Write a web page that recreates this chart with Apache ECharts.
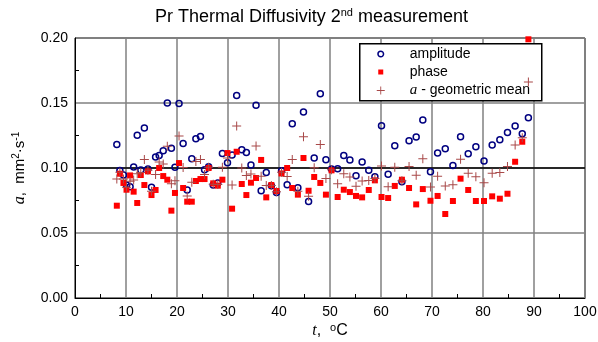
<!DOCTYPE html>
<html><head><meta charset="utf-8">
<script src="https://cdn.jsdelivr.net/npm/echarts@6/dist/echarts.min.js"></script>
<style>html,body{margin:0;padding:0;background:#fff}#c{width:598px;height:342px}</style>
</head><body><div id="c"></div>
<script>
const temperature = [8.2, 8.8, 9.5, 10.1, 10.8, 11.5, 12.2, 12.9, 13.6, 14.3, 15.0, 15.8, 16.5, 17.3, 18.1, 18.9, 19.6, 20.4, 21.2, 22.0, 22.9, 23.7, 24.6, 25.4, 26.2, 27.1, 28.0, 28.9, 29.9, 30.8, 31.7, 32.7, 33.6, 34.5, 35.5, 36.5, 37.5, 38.5, 39.5, 40.5, 41.6, 42.6, 43.7, 44.8, 45.8, 46.9, 48.1, 49.2, 50.3, 51.5, 52.7, 53.9, 55.1, 56.3, 57.6, 58.8, 60.1, 61.4, 62.7, 64.1, 65.5, 66.9, 68.2, 69.7, 71.1, 72.6, 74.1, 75.6, 77.1, 78.6, 80.2, 81.8, 83.3, 84.8, 86.3, 87.7, 88.9];
const amplitude = [0.118, 0.098, 0.0946, 0.0869, 0.0856, 0.1008, 0.1251, 0.0985, 0.1308, 0.0992,
  0.0851, 0.1085, 0.1097, 0.1133, 0.150, 0.1151, 0.1005, 0.1497, 0.1189, 0.0831,
  0.1072, 0.1225, 0.1243, 0.0987, 0.101, 0.0869, 0.0885, 0.1112, 0.1041, 0.110,
  0.1558, 0.1141, 0.112, 0.1023, 0.1482, 0.0825, 0.0966, 0.0864, 0.0812, 0.0979,
  0.0872, 0.1341, 0.0848, 0.1431, 0.0743, 0.1077, 0.1572, 0.1064, 0.0992, 0.0995,
  0.1097, 0.1062, 0.0941, 0.1046, 0.0982, 0.0933, 0.1325, 0.0951, 0.1172, 0.0895,
  0.121, 0.1238, 0.1369, 0.0972, 0.1115, 0.1148, 0.102, 0.1241, 0.111, 0.1164,
  0.1054, 0.1177, 0.1218, 0.1274, 0.1323, 0.1264, 0.1387];
const phase = [0.071, 0.0956, 0.0885, 0.0833, 0.0943, 0.0818, 0.0731, 0.0946, 0.0869, 0.0974,
  0.0792, 0.0831, 0.100, 0.0938, 0.091, 0.0672, 0.0808, 0.1038, 0.0846, 0.0741,
  0.0741, 0.090, 0.0915, 0.0915, 0.100, 0.0882, 0.0864, 0.091, 0.1115, 0.0687,
  0.1125, 0.0877, 0.0792, 0.0887, 0.0923, 0.1062, 0.0774, 0.0869, 0.0823, 0.0958,
  0.100, 0.0846, 0.0795, 0.1077, 0.0825, 0.0931, 0.0885, 0.0795, 0.0982, 0.0777,
  0.0833, 0.0815, 0.0785, 0.0774, 0.0831, 0.0905, 0.0777, 0.0769, 0.0862, 0.091,
  0.0846, 0.072, 0.0838, 0.0748, 0.0785, 0.0646, 0.0746, 0.0918, 0.0831, 0.0746,
  0.0746, 0.0782, 0.0764, 0.0802, 0.1048, 0.1202, 0.199];
const geoMean = [0.0915, 0.0968, 0.0915, 0.0851, 0.0898, 0.0908, 0.0956, 0.0965, 0.1066, 0.0983,
  0.0821, 0.095, 0.1047, 0.1031, 0.1168, 0.0879, 0.0901, 0.1247, 0.1003, 0.0785,
  0.0891, 0.105, 0.1066, 0.095, 0.1005, 0.0875, 0.0874, 0.1006, 0.1077, 0.0869,
  0.1324, 0.100, 0.0942, 0.0953, 0.117, 0.0936, 0.0865, 0.0866, 0.0818, 0.0968,
  0.0934, 0.1065, 0.0821, 0.1241, 0.0783, 0.1001, 0.118, 0.092, 0.0987, 0.0879,
  0.0956, 0.093, 0.0859, 0.090, 0.0903, 0.0919, 0.1015, 0.0855, 0.1005, 0.0902,
  0.1012, 0.0944, 0.1071, 0.0853, 0.0936, 0.0861, 0.0872, 0.1067, 0.096, 0.0932,
  0.0887, 0.0959, 0.0965, 0.1011, 0.1177, 0.1233, 0.1661];
const referenceLevel = [0.10];
const seriesNames = ['amplitude', 'phase', 'a - geometric mean'];

const FONT = 'Liberation Sans, Arial, sans-serif';
const plusPath = 'path://M4,0h1v4h4v1h-4v4h-1v-4h-4v-1h4z';
const legendCircle = 'path://M0,0M8,8M4,1.2A2.8,2.8,0,1,1,3.999,1.2Z';
const legendSquare = 'path://M0,0M8,8M1.5,1.5h5v5h-5z';
const NAVY = '#000080', RED = '#ff0000', CROSS = '#a84848';

const chart = echarts.init(document.getElementById('c'), null, {renderer: 'canvas'});
const pairs = arr => temperature.map((t, i) => [t, arr[i]]);

chart.setOption({
  animation: false,
  backgroundColor: '#fff',
  title: {
    text: '{n|Pr Thermal Diffusivity 2}{s|nd}{n| measurement}',
    left: 155, top: 7, padding: 0,
    textStyle: {
      fontWeight: 'normal',
      rich: {
        n: {fontSize: 18, fontFamily: FONT, fontWeight: 'normal', color: '#000', lineHeight: 21, verticalAlign: 'middle'},
        s: {fontSize: 11, fontFamily: FONT, fontWeight: 'normal', color: '#000', lineHeight: 21, verticalAlign: 'top'}
      }
    }
  },
  grid: {left: 75, right: 13, top: 38, bottom: 44, show: true, borderColor: '#000', borderWidth: 1,
    backgroundColor: 'transparent', containLabel: false, outerBoundsMode: 'none'},
  graphic: [{
    type: 'rect', left: 359, top: 43, z: 1,
    shape: {width: 182, height: 57},
    style: {fill: '#fff', stroke: '#000', lineWidth: 1.5}
  }],
  legend: {
    orient: 'vertical', left: 376, top: 47, padding: 0,
    itemWidth: 20, itemHeight: 8, itemGap: 4, z: 3,
    selectedMode: false,
    textStyle: {fontSize: 14, fontFamily: FONT, color: '#000', lineHeight: 14, padding: [0, 0, 0, 14],
      rich: {
        i: {fontSize: 15, fontFamily: 'Liberation Serif, serif', fontStyle: 'italic', color: '#000'},
        n: {fontSize: 14, fontFamily: FONT, color: '#000'}
      }},
    formatter: name => name === seriesNames[2] ? '{i|a}{n| - geometric mean}' : name,
    data: [
      {name: seriesNames[0], icon: legendCircle, itemStyle: {color: 'transparent', borderColor: NAVY, borderWidth: 1.5}},
      {name: seriesNames[1], icon: legendSquare, itemStyle: {color: RED, borderWidth: 0}},
      {name: seriesNames[2], icon: plusPath, itemStyle: {color: CROSS, borderWidth: 0}}
    ]
  },
  xAxis: {
    type: 'value', min: 0, max: 100, interval: 10,
    axisLine: {show: true, onZero: false, lineStyle: {color: '#000', width: 1}},
    axisTick: {show: false, inside: true},
    minorTick: {show: true, splitNumber: 2, length: 4, lineStyle: {color: '#000', width: 1}},
    splitLine: {show: true, lineStyle: {color: '#808080', width: 1.5}},
    axisLabel: {fontSize: 14, fontFamily: FONT, color: '#000', margin: 7},
    name: '{i|t}{n|,  }{s|o}{n|C}',
    nameLocation: 'middle', nameGap: 24, nameMoveOverlap: false,
    nameTextStyle: {
      rich: {
        i: {fontSize: 16, fontFamily: 'Liberation Serif, serif', fontStyle: 'italic', color: '#000', lineHeight: 18, verticalAlign: 'middle'},
        n: {fontSize: 16, fontFamily: FONT, color: '#000', lineHeight: 18, verticalAlign: 'middle'},
        s: {fontSize: 11, fontFamily: FONT, color: '#000', lineHeight: 18, verticalAlign: 'top'}
      }
    }
  },
  yAxis: {
    type: 'value', min: 0, max: 0.2, interval: 0.05,
    axisLine: {show: true, onZero: false, lineStyle: {color: '#000', width: 1}},
    axisTick: {show: false, inside: true},
    minorTick: {show: true, splitNumber: 2, length: 4, lineStyle: {color: '#000', width: 1}},
    splitLine: {show: true, lineStyle: {color: '#808080', width: 1.5}},
    axisLabel: {fontSize: 14, fontFamily: FONT, color: '#000', margin: 7, formatter: v => v.toFixed(2)},
    name: '{i|a}{n|,  mm}{s|2}{n|·s}{s|-1}',
    nameLocation: 'middle', nameRotate: 90, nameGap: 46, nameMoveOverlap: false,
    nameTextStyle: {
      rich: {
        i: {fontSize: 16, fontFamily: 'Liberation Serif, serif', fontStyle: 'italic', color: '#000', lineHeight: 18, verticalAlign: 'middle'},
        n: {fontSize: 15, fontFamily: FONT, color: '#000', lineHeight: 18, verticalAlign: 'middle'},
        s: {fontSize: 10, fontFamily: FONT, color: '#000', lineHeight: 18, verticalAlign: 'top'}
      }
    }
  },
  series: [
    {
      type: 'line', name: 'ref', silent: true, z: 1, symbol: 'none',
      data: [[0, referenceLevel[0]], [100, referenceLevel[0]]],
      lineStyle: {color: '#000', width: 1.5}
    },
    {
      type: 'scatter', name: seriesNames[0], z: 3, symbol: 'circle', symbolSize: 6,
      itemStyle: {color: 'transparent', borderColor: NAVY, borderWidth: 1.5, opacity: 1},
      emphasis: {disabled: true}, data: pairs(amplitude)
    },
    {
      type: 'scatter', name: seriesNames[1], z: 4, symbol: 'rect', symbolSize: 6,
      itemStyle: {color: RED, opacity: 1},
      emphasis: {disabled: true}, data: pairs(phase)
    },
    {
      type: 'scatter', name: seriesNames[2], z: 5, symbol: plusPath, symbolSize: 9,
      itemStyle: {color: CROSS, opacity: 1},
      emphasis: {disabled: true}, data: pairs(geoMean)
    }
  ]
});
</script>
</body></html>
